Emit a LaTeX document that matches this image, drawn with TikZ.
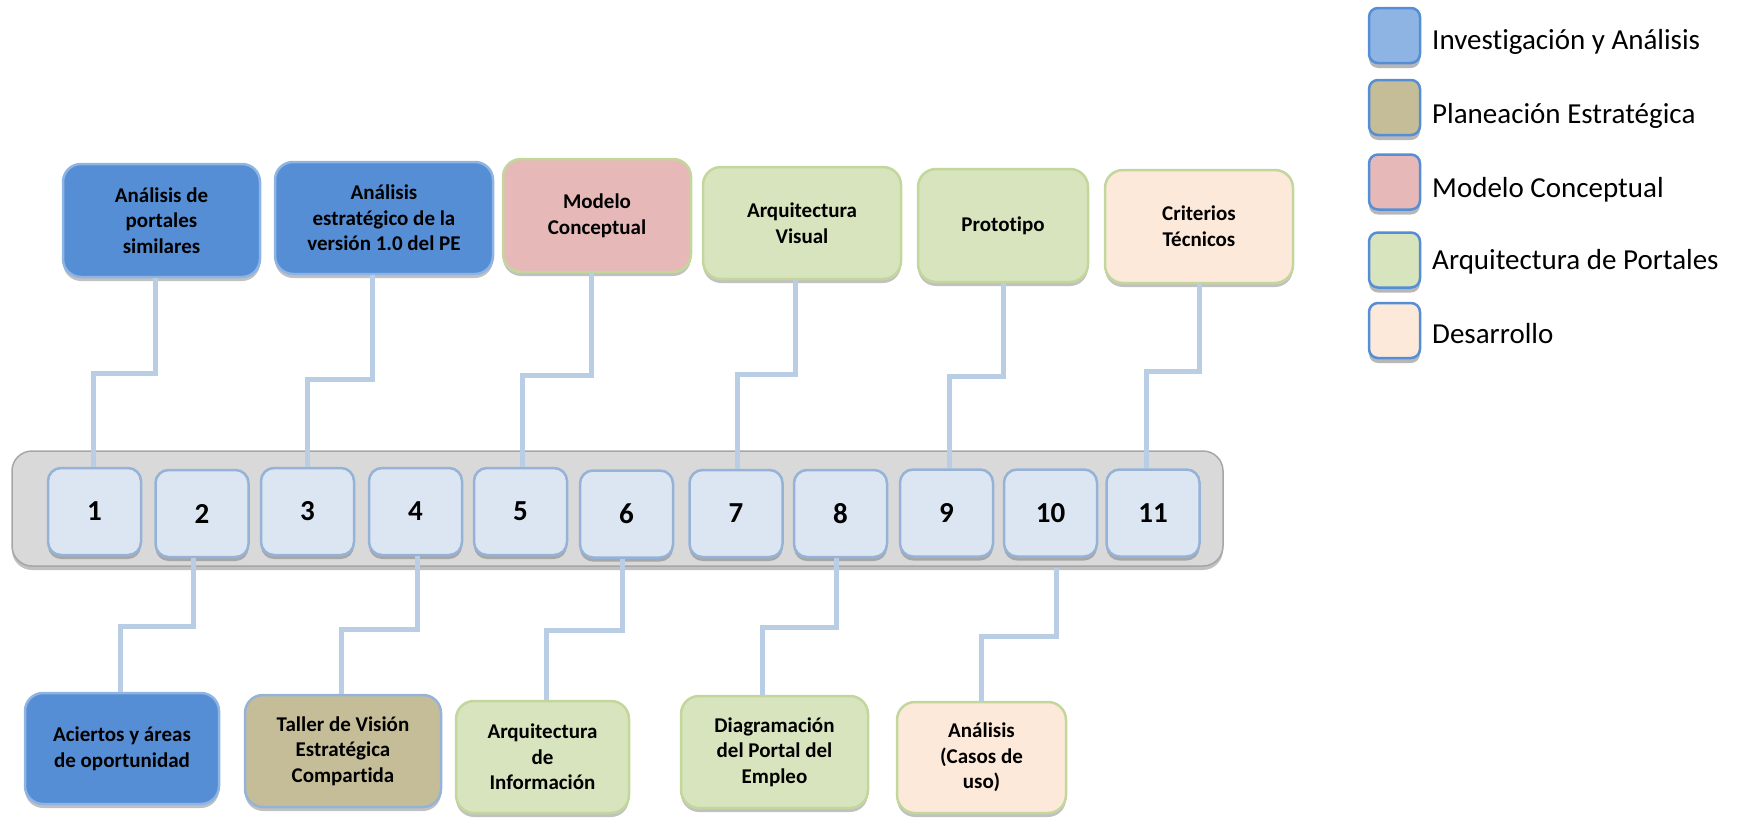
\documentclass[tikz,border=0pt]{standalone}
\usepackage{fontspec}
\setmainfont{Carlito}[Ligatures={NoCommon,TeX}]
\usetikzlibrary{shadows}

\definecolor{cInvest}{HTML}{558ED5}
\definecolor{cInvestLight}{HTML}{8EB4E3}
\definecolor{cEdgeBlue}{HTML}{95B3D7}
\definecolor{cPlan}{HTML}{C4BD97}
\definecolor{cModel}{HTML}{E6B9B8}
\definecolor{cArch}{HTML}{D7E4BD}
\definecolor{cArchEdge}{HTML}{C3D69B}
\definecolor{cDev}{HTML}{FDE9D9}
\definecolor{cNum}{HTML}{DCE6F2}
\definecolor{cBar}{HTML}{D9D9D9}
\definecolor{cBarEdge}{HTML}{A6A6A6}
\definecolor{cLink}{HTML}{B9CDE5}

\tikzset{
  softshadow/.style={drop shadow={shadow xshift=0pt, shadow yshift=-4pt, opacity=0.35, fill=black!70}},
  task/.style={rectangle, rounded corners=18pt, line width=2.5pt, align=center,
    font=\bfseries\fontsize{21}{25.6}\selectfont, inner sep=4pt, softshadow},
  investbox/.style={task, fill=cInvest, draw=cInvestLight},
  planbox/.style={task, fill=cPlan, draw=cEdgeBlue},
  modelbox/.style={task, fill=cModel, draw=cArchEdge},
  archbox/.style={task, fill=cArch, draw=cArchEdge},
  devbox/.style={task, fill=cDev, draw=cArchEdge},
  numbox/.style={rectangle, rounded corners=13pt, line width=2.5pt, fill=cNum, draw=cEdgeBlue,
    minimum width=93pt, minimum height=87pt, font=\bfseries\fontsize{29}{33}\selectfont, softshadow},
  timeline/.style={rectangle, rounded corners=20pt, line width=1.5pt, fill=cBar, draw=cBarEdge,
    minimum width=1211pt, minimum height=115pt, softshadow},
  conn/.style={draw=cLink, line width=5pt},
  legsq/.style={rectangle, rounded corners=9pt, line width=2.5pt, draw=cInvest,
    minimum width=51pt, minimum height=55pt,
    drop shadow={shadow xshift=0pt, shadow yshift=-5pt, opacity=0.4, fill=black!70}},
  legtxt/.style={anchor=base west, inner sep=0pt, font=\fontsize{29}{35}\selectfont}
}

\begin{document}
\begin{tikzpicture}[x=1pt, y=-1pt]
\useasboundingbox (0,0) rectangle (1739,817);

% timeline bar with the numbered steps
\node[timeline] (bar) at (617.5,508.5) {};
\node[numbox] (N1)  at (94.5,511.5)  {1};
\node[numbox] (N2)  at (202,513.5)   {2};
\node[numbox] (N3)  at (307.5,511.5) {3};
\node[numbox] (N4)  at (415.5,511.5) {4};
\node[numbox] (N5)  at (520.5,511.5) {5};
\node[numbox] (N6)  at (626.5,514)   {6};
\node[numbox] (N7)  at (736,513.5)   {7};
\node[numbox] (N8)  at (840.5,513.5) {8};
\node[numbox] (N9)  at (946.5,513)   {9};
\node[numbox] (N10) at (1050.5,513)  {10};
\node[numbox] (N11) at (1153,513)    {11};

% tasks above the timeline
\node[investbox, minimum width=197pt, minimum height=113pt] (A1) at (161.5,220.5) {Análisis de\\portales\\similares};
\node[investbox, minimum width=218pt, minimum height=112pt] (A2) at (384,218) {Análisis\\estratégico de la\\versión 1.0 del PE};
\node[modelbox, minimum width=188pt, minimum height=113pt] (A3) at (597,215.5) {Modelo\\Conceptual};
\node[archbox, minimum width=198pt, minimum height=112pt] (A4) at (802,223) {Arquitectura\\Visual};
\node[archbox, minimum width=170pt, minimum height=113pt] (A5) at (1003,225.5) {Prototipo};
\node[devbox, minimum width=188pt, minimum height=113pt] (A6) at (1199,226.5) {Criterios\\Técnicos};

% tasks below the timeline
\node[investbox, minimum width=194pt, minimum height=111pt] (B1) at (122,748.5) {Aciertos y áreas\\de oportunidad};
\node[planbox, minimum width=196pt, minimum height=112pt] (B2) at (343,751) {Taller de Visión\\Estratégica\\Compartida};
\node[archbox, minimum width=173pt, minimum height=112pt] (B3) at (542.5,757) {Arquitectura\\de\\Información};
\node[archbox, minimum width=187pt, minimum height=112pt] (B4) at (774.5,752) {Diagramación\\del Portal del\\Empleo};
\node[devbox, minimum width=169pt, minimum height=111pt] (B5) at (981.5,757.5) {Análisis\\(Casos de\\uso)};

% stepped connectors, upper row
\draw[conn] ([xshift=-6.5pt]A1.south) -- ++(0,95)  -| ([xshift=-1.5pt]N1.north);
\draw[conn] ([xshift=-12pt]A2.south)  -- ++(0,104) -| ([xshift=-0.5pt]N3.north);
\draw[conn] ([xshift=-6pt]A3.south)   -- ++(0,102) -| ([xshift=1.5pt]N5.north);
\draw[conn] ([xshift=-7pt]A4.south)   -- ++(0,94)  -| ([xshift=1pt]N7.north);
\draw[conn] (A5.south)                -- ++(0,93)  -| ([xshift=2.5pt]N9.north);
\draw[conn] (A6.south)                -- ++(0,87)  -| ([xshift=-7pt]N11.north);

% stepped connectors, lower row
\draw[conn] ([xshift=-9pt]N2.south)   -- ++(0,68) -| ([xshift=-2pt]B1.north);
\draw[conn] ([xshift=1.5pt]N4.south)  -- ++(0,73) -| ([xshift=-2pt]B2.north);
\draw[conn] ([xshift=-4.5pt]N6.south) -- ++(0,72) -| ([xshift=3.5pt]B3.north);
\draw[conn] ([xshift=-4.5pt]N8.south) -- ++(0,69) -| ([xshift=-12.5pt]B4.north);
\draw[conn] ([xshift=5.5pt,yshift=-10pt]N10.south) -- ++(0,69) -| (B5.north);

% legend
\node[legsq, fill=cInvestLight] (L1) at (1394.5,35.5)  {};
\node[legsq, fill=cPlan]        (L2) at (1394.5,107.5) {};
\node[legsq, fill=cModel]       (L3) at (1394.5,182)   {};
\node[legsq, fill=cArch]        (L4) at (1394.5,260)   {};
\node[legsq, fill=cDev]         (L5) at (1394.5,330.5) {};
\node[legtxt] (T1) at (1432,49)  {Investigación y Análisis};
\node[legtxt] (T2) at (1432,123) {Planeación Estratégica};
\node[legtxt] (T3) at (1432,197) {Modelo Conceptual};
\node[legtxt] (T4) at (1432,269) {Arquitectura de Portales};
\node[legtxt] (T5) at (1432,343) {Desarrollo};
\end{tikzpicture}
\end{document}
